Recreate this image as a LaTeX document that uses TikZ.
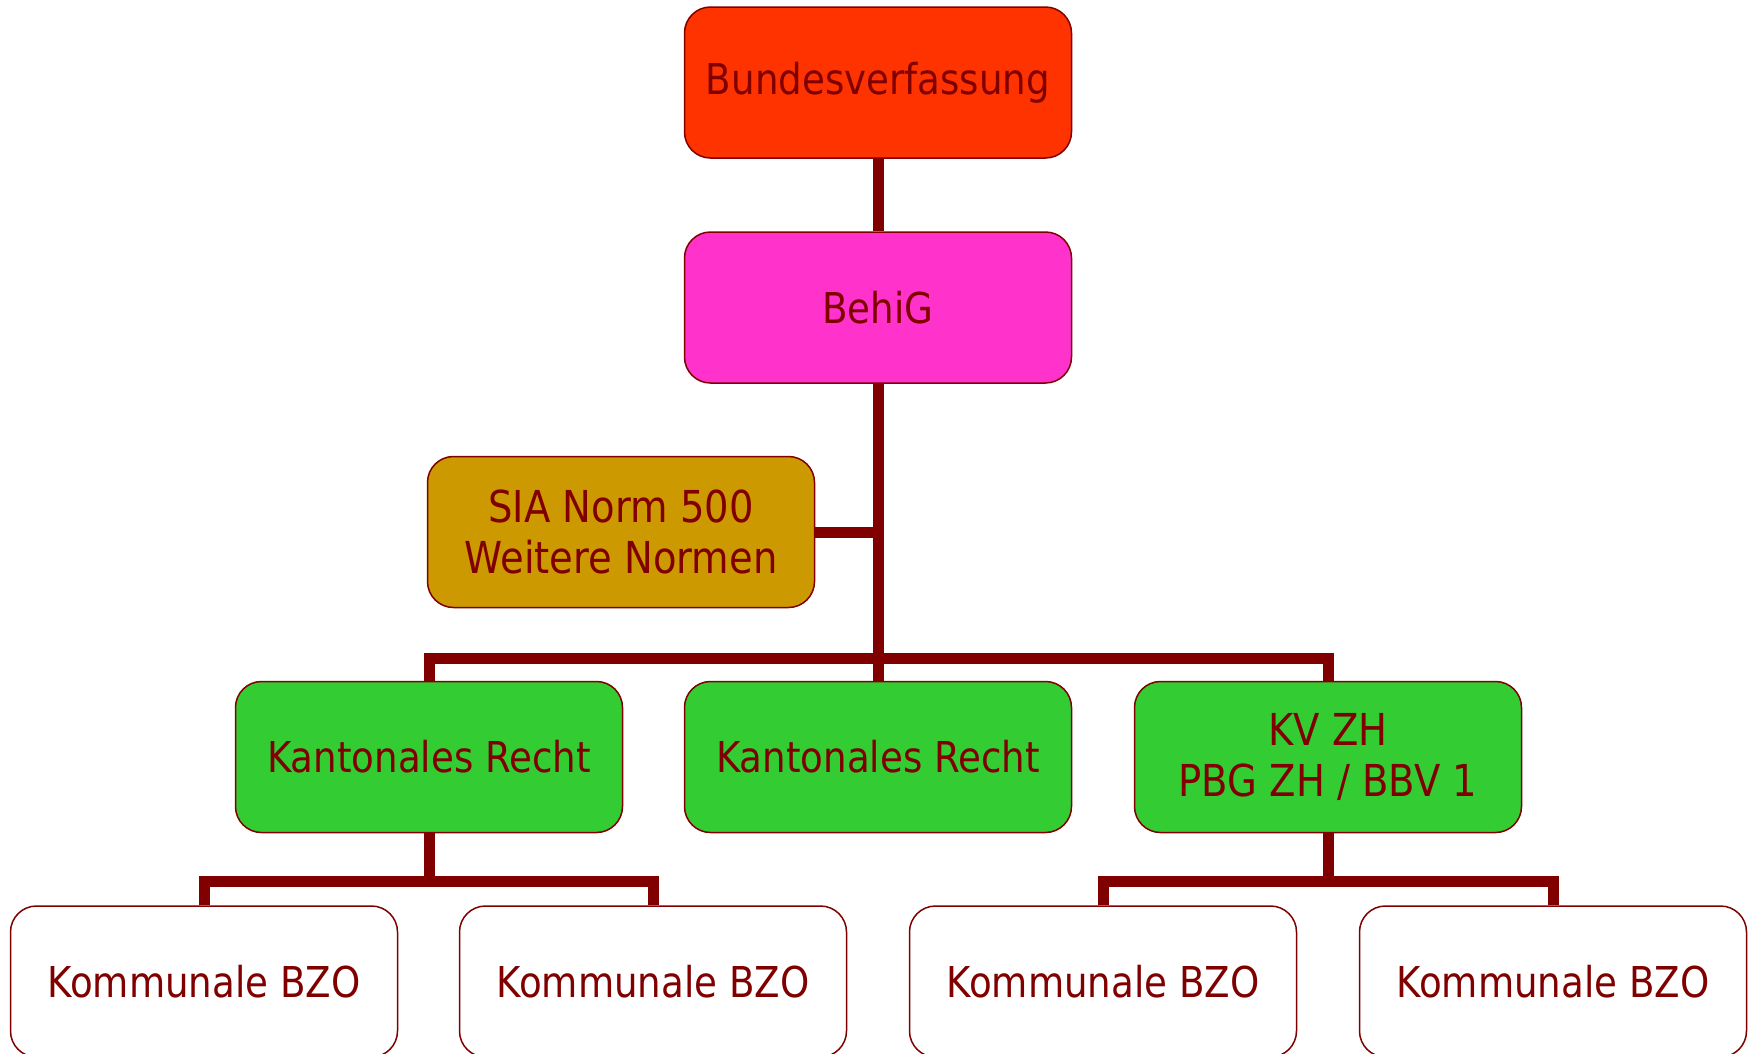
\documentclass[tikz,border=0pt]{standalone}
\usepackage{fontspec}
\setmainfont{DejaVu Sans}[FakeStretch=0.875]
\usetikzlibrary{backgrounds}
\definecolor{dred}{HTML}{800000}
\definecolor{cbv}{HTML}{FF3300}
\definecolor{cbehig}{HTML}{FF33CC}
\definecolor{csia}{HTML}{CC9900}
\definecolor{cgreen}{HTML}{33CC33}
\begin{document}
\begin{tikzpicture}[x=1pt,y=-1pt,
  box/.style={draw=dred, line width=1.5pt, rounded corners=26pt,
    minimum width=387pt, minimum height=151pt, inner sep=0pt,
    text=dred, font=\fontsize{42.5}{51}\selectfont, align=center},
  twoline/.style={font=\fontsize{44}{51}\selectfont},
  conn/.style={draw=dred, line width=11pt}]
\path[use as bounding box] (0,0) rectangle (1750,1053);
\clip (0,0) rectangle (1750,1053);
\node[box, fill=cbv] (bv) at (878,82.5) {Bundesverfassung};
\node[box, fill=cbehig] (behig) at (878,307.5) {BehiG};
\node[box, fill=csia, twoline] (sia) at (621,532) {SIA Norm 500\\Weitere Normen};
\node[box, fill=cgreen] (kr1) at (429,757) {Kantonales Recht};
\node[box, fill=cgreen] (kr2) at (878,757) {Kantonales Recht};
\node[box, fill=cgreen, twoline] (kv) at (1328,757) {KV ZH\\PBG ZH / BBV 1};
\node[box, fill=white] (b1) at (204,981.5) {Kommunale BZO};
\node[box, fill=white] (b2) at (653,981.5) {Kommunale BZO};
\node[box, fill=white] (b3) at (1103,981.5) {Kommunale BZO};
\node[box, fill=white] (b4) at (1553,981.5) {Kommunale BZO};
\begin{scope}[on background layer]
\draw[conn] (bv.south) -- (behig.north);
\draw[conn] (behig.south) -- (kr2.north);
\draw[conn] (sia.east) -- (sia.east -| behig.south);
\draw[conn] (kr1.north) -- ++(0,-22) -| (behig.south);
\draw[conn] (kv.north) -- ++(0,-22) -| (behig.south);
\draw[conn] (b1.north) -- ++(0,-24) -| (kr1.south);
\draw[conn] (b2.north) -- ++(0,-24) -| (kr1.south);
\draw[conn] (b3.north) -- ++(0,-24) -| (kv.south);
\draw[conn] (b4.north) -- ++(0,-24) -| (kv.south);
\end{scope}
\end{tikzpicture}
\end{document}
